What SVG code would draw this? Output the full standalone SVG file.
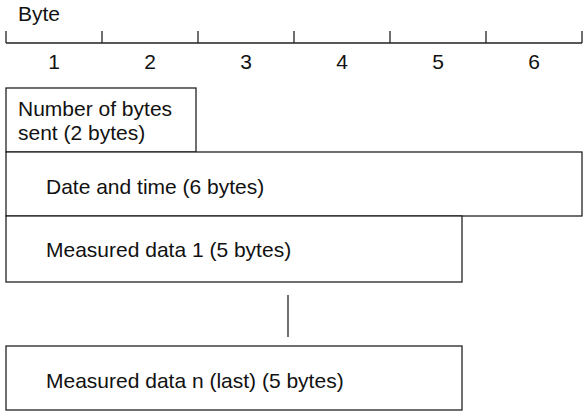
<svg xmlns="http://www.w3.org/2000/svg" width="584" height="414" viewBox="0 0 584 414">
<style>
text{font-family:"Liberation Sans",Arial,sans-serif;font-size:21px;fill:#111}
.n{text-anchor:middle}
.box{fill:#fff;stroke:#222;stroke-width:1.3}
.ln{stroke:#222;stroke-width:1.3;fill:none}
</style>
<rect width="584" height="414" fill="#fff"/>
<g id="ruler">
<text x="18" y="21">Byte</text>
<path class="ln" d="M6,43H582M6,31V43M102,31V43M198,31V43M294,31V43M390,31V43M486,31V43M582,31V43"/>
<text class="n" x="54" y="69">1</text>
<text class="n" x="150" y="69">2</text>
<text class="n" x="246" y="69">3</text>
<text class="n" x="342" y="69">4</text>
<text class="n" x="438" y="69">5</text>
<text class="n" x="534" y="69">6</text>
</g>
<g id="count">
<rect class="box" x="6" y="88" width="190" height="64"/>
<text x="18" y="116">Number of bytes</text>
<text x="18" y="140">sent (2 bytes)</text>
</g>
<g id="datetime">
<rect class="box" x="6" y="152" width="576" height="64"/>
<text x="46" y="194">Date and time (6 bytes)</text>
</g>
<g id="data1">
<rect class="box" x="6" y="216" width="456" height="66"/>
<text x="46" y="257">Measured data 1 (5 bytes)</text>
</g>
<g id="connectors">
<path class="ln" d="M288,295V337"/>
</g>
<g id="datan">
<rect class="box" x="6" y="346" width="456" height="64"/>
<text x="46" y="388">Measured data n (last) (5 bytes)</text>
</g>
</svg>
